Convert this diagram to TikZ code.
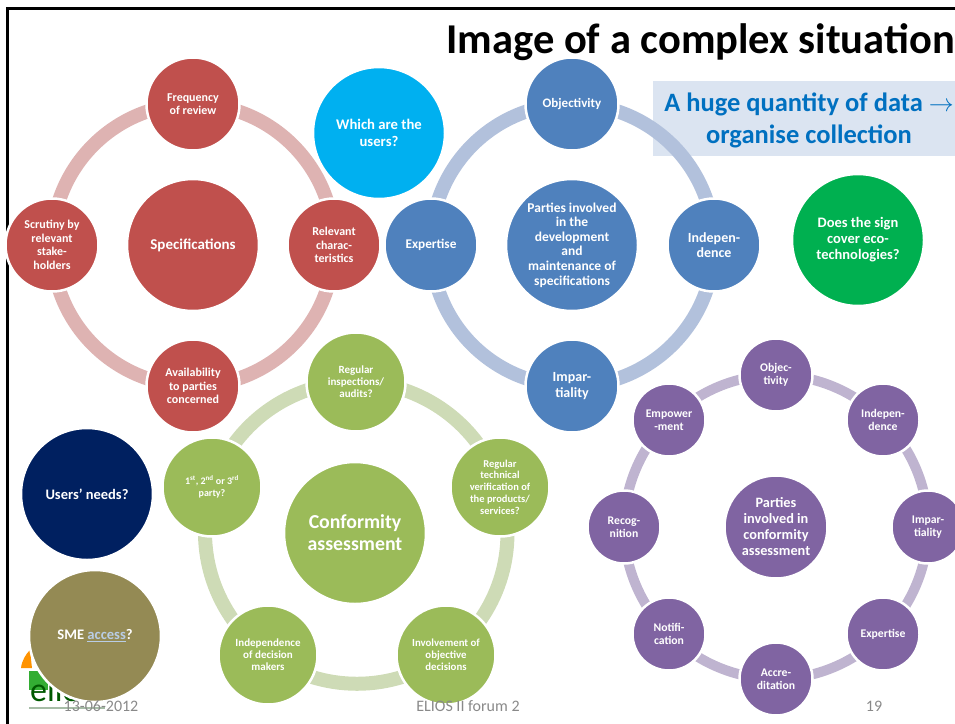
\documentclass[tikz,border=0pt]{standalone}
\usepackage{fontspec}
\setmainfont{Carlito}
\usetikzlibrary{backgrounds}
\definecolor{cRed}{HTML}{C0504D}
\definecolor{cRedL}{HTML}{DEB3B2}
\definecolor{cBlue}{HTML}{4F81BD}
\definecolor{cBlueL}{HTML}{B2C1DC}
\definecolor{cGreen}{HTML}{9BBB59}
\definecolor{cGreenL}{HTML}{CEDBB6}
\definecolor{cPurple}{HTML}{8064A2}
\definecolor{cPurpleL}{HTML}{BFB4D0}
\definecolor{cSky}{HTML}{00B0F0}
\definecolor{cLeaf}{HTML}{00B050}
\definecolor{cNavy}{HTML}{002060}
\definecolor{cOlive}{HTML}{948A54}
\definecolor{cBox}{HTML}{DBE4F1}
\definecolor{cHead}{HTML}{0070C0}
\definecolor{cFoot}{HTML}{898989}
\definecolor{cLink}{HTML}{B9CDE5}
\tikzset{
  x=1pt,y=-1pt,
  disc/.style={circle,inner sep=0pt,align=center,text=white,draw=white,line width=2.5pt,font=\bfseries\fontsize{12}{13.5}\selectfont},
  r45/.style={disc,minimum size=93pt},
  r48/.style={disc,minimum size=99pt},
  r35/.style={disc,minimum size=73pt},
  r65/.style={disc,minimum size=132pt},
  ringred/.style={draw=cRedL,line width=14pt},
  ringblue/.style={draw=cBlueL,line width=14pt},
  ringgreen/.style={draw=cGreenL,line width=14pt},
  ringpurple/.style={draw=cPurpleL,line width=10pt},
  arc90/.style={bend right=45},
  arc72/.style={bend right=36,looseness=.94},
  arc45/.style={bend right=22.5,looseness=.885},
  foot/.style={text=cFoot,font=\fontsize{16}{18}\selectfont,inner sep=0pt},
}
\begin{document}
\begin{tikzpicture}
\useasboundingbox (0,0) rectangle (955,723);
% frame
\draw[line width=3pt,line cap=rect] (7,723) -- (7,8) -- (955,8);
% logo
\fill[orange!85!yellow] (21,668) .. controls (22,660) and (26,654) .. (30,650) -- (32,668) -- cycle;
\fill[green!60!black!80] (29,671) rectangle (48,690);
\draw[green!25!black!35,line width=2pt] (29,708) -- (105,708);
\node[text=green!35!black,font=\fontsize{34}{34}\selectfont,inner sep=0pt,anchor=base west] (logo) at (30,701) {elios};
% title and box
\node[font=\bfseries\fontsize{42.5}{46}\selectfont,inner sep=0pt,anchor=base east] (title) at (955,53) {Image of a complex situation};
\node[text=cHead,font=\bfseries\fontsize{26.5}{32}\selectfont,align=center,inner sep=0pt] (boxtext) at (809,120) {A huge quantity of data $\rightarrow$\\organise collection};
% red
\node[r45,fill=cRed] (r1) at (193,104) {Frequency\\of review};
\node[r45,fill=cRed] (r2) at (52,245) {Scrutiny by\\relevant\\stake-\\holders};
\node[r45,fill=cRed] (r3) at (193,386) {Availability\\to parties\\concerned};
\node[r45,fill=cRed] (r4) at (334,245) {Relevant\\charac-\\teristics};
\node[r65,fill=cRed,font=\bfseries\fontsize{15}{17}\selectfont] (rc) at (193,245) {Specifications};
% blue
\node[r45,fill=cBlue,font=\bfseries\fontsize{13}{15}\selectfont] (b1) at (572,104) {Objectivity};
\node[r45,fill=cBlue,font=\bfseries\fontsize{13.3}{15}\selectfont] (b2) at (431,245) {Expertise};
\node[r45,fill=cBlue,font=\bfseries\fontsize{14}{15.5}\selectfont] (b3) at (572,386) {Impar-\\tiality};
\node[r45,fill=cBlue,font=\bfseries\fontsize{14}{15.5}\selectfont] (b4) at (714,245) {Indepen-\\dence};
\node[r65,fill=cBlue,font=\bfseries\fontsize{13.5}{14.6}\selectfont] (bc) at (572,245) {Parties involved\\in the\\development\\and\\maintenance of\\specifications};
% free discs
\node[r65,fill=cSky,font=\bfseries\fontsize{14.7}{16.5}\selectfont] (users) at (379,133) {Which are the\\users?};
\node[r65,fill=cLeaf,font=\bfseries\fontsize{14.5}{16}\selectfont] (eco) at (858,240) {Does the sign\\cover eco-\\technologies?};
\node[r65,fill=cNavy,font=\bfseries\fontsize{14.5}{16}\selectfont] (needs) at (87,494) {Users’ needs?};
\node[r65,fill=cOlive,font=\bfseries\fontsize{14.6}{16}\selectfont] (sme) at (95,636) {SME \textcolor{cLink}{\underline{access}}?};
% green
\node[r48,fill=cGreen,font=\bfseries\fontsize{11}{12}\selectfont] (g1) at (356,382) {Regular\\inspections/\\audits?};
\node[r48,fill=cGreen,font=\bfseries\fontsize{10}{12}\selectfont] (g2) at (212,487) {1\textsuperscript{st}, 2\textsuperscript{nd} or 3\textsuperscript{rd}\\party?};
\node[r48,fill=cGreen,font=\bfseries\fontsize{11}{12}\selectfont] (g3) at (268,655) {Independence\\of decision\\makers};
\node[r48,fill=cGreen,font=\bfseries\fontsize{10.8}{12}\selectfont] (g4) at (446,655) {Involvement of\\objective\\decisions};
\node[r48,fill=cGreen,font=\bfseries\fontsize{10.5}{11.7}\selectfont] (g5) at (500,487) {Regular\\technical\\verification of\\the products/\\services?};
\node[disc,minimum size=142pt,fill=cGreen,font=\bfseries\fontsize{19.8}{22}\selectfont] (gc) at (355,533) {Conformity\\assessment};
% purple
\tikzset{psmall/.style={r35,fill=cPurple,font=\bfseries\fontsize{11.7}{12.5}\selectfont}}
\node[psmall] (p1) at (776,375) {Objec-\\tivity};
\node[psmall] (p2) at (669,420) {Empower\\-ment};
\node[psmall] (p3) at (624,527) {Recog-\\nition};
\node[psmall] (p4) at (669,634) {Notifi-\\cation};
\node[psmall] (p5) at (776,679) {Accre-\\ditation};
\node[psmall] (p6) at (883,634) {Expertise};
\node[psmall] (p7) at (928,527) {Impar-\\tiality};
\node[psmall] (p8) at (883,420) {Indepen-\\dence};
\node[disc,minimum size=103pt,fill=cPurple,font=\bfseries\fontsize{14.3}{16}\selectfont] (pc) at (776,527) {Parties\\involved in\\conformity\\assessment};
% footer
\node[foot] (fdate) at (101,706) {13-06-2012};
\node[foot] (fname) at (468,706) {ELIOS II forum 2};
\node[foot] (fnum) at (874,706) {19};
% box and rings, behind the discs
\begin{scope}[on background layer]
\node[fill=cBox,minimum width=302pt,minimum height=75pt,inner sep=0pt,anchor=north west] (box) at (653,81) {};
\draw[ringred] (r1.center) to[arc90] (r2.center) (r2.center) to[arc90] (r3.center) (r3.center) to[arc90] (r4.center) (r4.center) to[arc90] (r1.center);
\draw[ringblue] (b1.center) to[arc90] (b2.center) (b2.center) to[arc90] (b3.center) (b3.center) to[arc90] (b4.center) (b4.center) to[arc90] (b1.center);
\draw[ringgreen] (g1.center) to[arc72] (g2.center) (g2.center) to[arc72] (g3.center) (g3.center) to[arc72] (g4.center) (g4.center) to[arc72] (g5.center) (g5.center) to[arc72] (g1.center);
\draw[ringpurple] (p1.center) to[arc45] (p2.center) (p2.center) to[arc45] (p3.center) (p3.center) to[arc45] (p4.center) (p4.center) to[arc45] (p5.center) (p5.center) to[arc45] (p6.center) (p6.center) to[arc45] (p7.center) (p7.center) to[arc45] (p8.center) (p8.center) to[arc45] (p1.center);
\end{scope}
\end{tikzpicture}
\end{document}
